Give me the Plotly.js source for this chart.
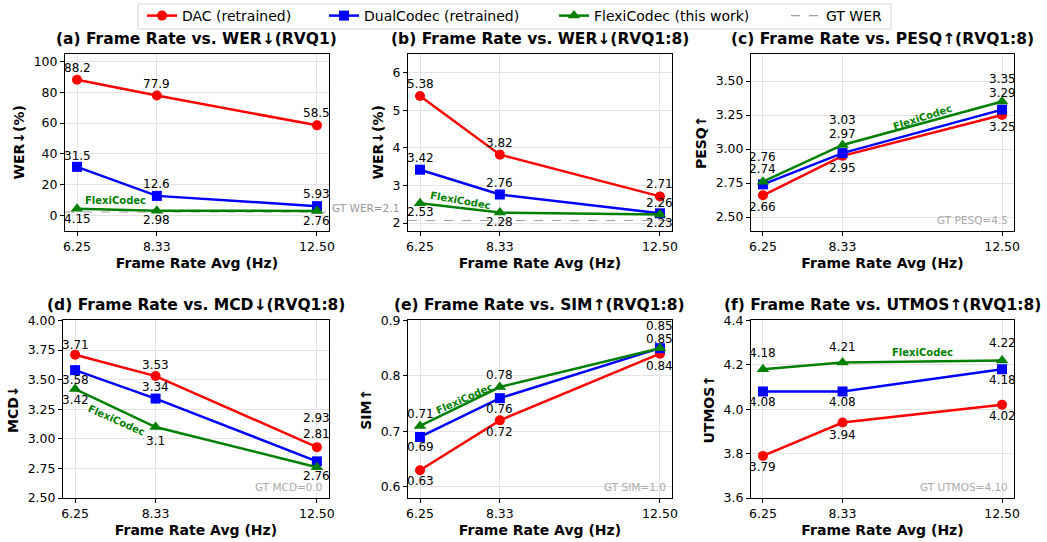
<!DOCTYPE html>
<html><head><meta charset="utf-8">
<script src="https://cdn.plot.ly/plotly-3.0.1.min.js"></script>
<style>html,body{margin:0;padding:0;background:#fff}#chart{width:1047px;height:542px}</style>
</head><body><div id="chart"></div>
<script>
// ---------- data ----------
const frameRates = [6.25, 8.33, 12.5];
const frameRateLabels = ['6.25', '8.33', '12.50'];
const seriesNames = ['DAC (retrained)', 'DualCodec (retrained)', 'FlexiCodec (this work)'];
const panelTitles = [
  '(a) Frame Rate vs. WER↓(RVQ1)',
  '(b) Frame Rate vs. WER↓(RVQ1:8)',
  '(c) Frame Rate vs. PESQ↑(RVQ1:8)',
  '(d) Frame Rate vs. MCD↓(RVQ1:8)',
  '(e) Frame Rate vs. SIM↑(RVQ1:8)',
  '(f) Frame Rate vs. UTMOS↑(RVQ1:8)'
];
const yTitles = ['WER↓(%)', 'WER↓(%)', 'PESQ↑', 'MCD↓', 'SIM↑', 'UTMOS↑'];
const xTitle = 'Frame Rate Avg (Hz)';
// per panel: a, b, c, d, e, f
const dacValues   = [[88.2, 77.9, 58.5], [5.38, 3.82, 2.71], [2.66, 2.95, 3.25], [3.71, 3.53, 2.93], [0.63, 0.72, 0.84], [3.79, 3.94, 4.02]];
const dualValues  = [[31.5, 12.6, 5.93], [3.42, 2.76, 2.26], [2.74, 2.97, 3.29], [3.58, 3.34, 2.81], [0.69, 0.76, 0.85], [4.08, 4.08, 4.18]];
const flexiValues = [[4.15, 2.98, 2.76], [2.53, 2.28, 2.23], [2.76, 3.03, 3.35], [3.42, 3.1, 2.76], [0.71, 0.78, 0.85], [4.18, 4.21, 4.22]];
const gtWer = 2.07;
const gtWerLabel = 'GT WER=2.1';
const gtLegendName = 'GT WER';
const gtCornerLabels = [null, null, 'GT PESQ=4.5', 'GT MCD=0.0', 'GT SIM=1.0', 'GT UTMOS=4.10'];
const flexiTag = 'FlexiCodec';

// ---------- styling / placement ----------
const FONT = 'DejaVu Sans, Verdana, sans-serif';
const colors = ['#ff0000', '#0000ff', '#008000'];
const symbols = ['circle', 'square', 'triangle-up'];
const markerSizes = [10, 10, 11];
const xDomains = [[0.0621, 0.3142], [0.3897, 0.6418], [0.7173, 0.9685], [0.0602, 0.3142], [0.3897, 0.6418], [0.7173, 0.9685]];
const yDomains = [[0.5756, 0.9022], [0.5756, 0.9022], [0.5756, 0.9022], [0.0812, 0.4096], [0.0812, 0.4096], [0.0812, 0.4096]];
const yAxisCfg = [
  {range: [-10, 105], tick0: 0, dtick: 20, tickformat: 'd'},
  {range: [1.8, 6.5], tick0: 0, dtick: 1, tickformat: 'd'},
  {range: [2.4, 3.7], tick0: 0, dtick: 0.25, tickformat: '.2f'},
  {range: [2.5, 4.0], tick0: 0, dtick: 0.25, tickformat: '.2f'},
  {range: [0.58, 0.9], tick0: 0, dtick: 0.1, tickformat: '.1f'},
  {range: [3.6, 4.4], tick0: 0, dtick: 0.2, tickformat: '.1f'}
];
// value-label vertical offsets (px, + = up) per panel, per series, per point
const labelShift = [
  [[12, 12, 12], [11, 12, 12], [-10, -9, -10]],
  [[12, 12, 12], [12, 12, 10], [-9, -9, -9]],
  [[-12, -12, -12], [15, 19, 17], [25, 25, 22]],
  [[10, 11, 29], [-10, 12, 27], [-11, -14, -9]],
  [[-11, -12, -12], [-10, -11, 9], [12, 12, 22]],
  [[-11, -12, -11], [-11, -11, -11], [16, 16, 17]]
];
// series-name tag placement (data coords) and rotation per panel
const flexiTagPos = [
  {x: 7.26, y: 9.7, a: 0}, {x: 7.31, y: 2.60, a: 10}, {x: 10.41, y: 3.233, a: -18},
  {x: 7.33, y: 3.156, a: 24}, {x: 7.41, y: 0.759, a: -24}, {x: 10.41, y: 4.257, a: 0}
];

const allSeries = [dacValues, dualValues, flexiValues];
const xMin = Math.min(...frameRates), xMax = Math.max(...frameRates);
const xPad = 0.05 * (xMax - xMin);
const xRange = [xMin - xPad, xMax + xPad];

const legendIds = ['legend', 'legend2', 'legend3', 'legend4'];
const legendX = [142, 324, 554, 786];

const data = [];
const layout = {
  width: 1047, height: 542,
  margin: {l: 0, r: 0, t: 0, b: 0},
  paper_bgcolor: '#fff', plot_bgcolor: '#fff',
  font: {family: FONT, size: 12, color: '#000'},
  annotations: [], shapes: [], hovermode: false
};

for (let p = 0; p < 6; p++) {
  const sfx = p === 0 ? '' : String(p + 1);
  const xa = 'x' + sfx, ya = 'y' + sfx;
  for (let s = 0; s < 3; s++) {
    data.push({
      x: frameRates, y: allSeries[s][p], xaxis: xa, yaxis: ya,
      type: 'scatter', mode: 'lines+markers', name: seriesNames[s],
      line: {color: colors[s], width: 2.5},
      marker: {color: colors[s], symbol: symbols[s], size: markerSizes[s]},
      showlegend: p === 0, legend: legendIds[s], cliponaxis: false
    });
    allSeries[s][p].forEach((v, i) => {
      layout.annotations.push({
        xref: xa, yref: ya, x: frameRates[i], y: v, text: String(v),
        showarrow: false, yshift: labelShift[p][s][i], yanchor: 'middle',
        font: {family: FONT, size: 12, color: '#000'}
      });
    });
  }
  layout['xaxis' + sfx] = {
    domain: xDomains[p], anchor: ya, range: xRange,
    tickmode: 'array', tickvals: frameRates, ticktext: frameRateLabels,
    showline: true, mirror: true, linecolor: '#000', linewidth: 1,
    ticks: 'outside', ticklen: 4, tickcolor: '#000', tickwidth: 1,
    showgrid: true, gridcolor: '#e3e3e3', gridwidth: 1, zeroline: false,
    tickfont: {family: FONT, size: 12.5, color: '#000'},
    title: {text: xTitle, standoff: 5, font: {family: FONT, size: 14, weight: 'bold', color: '#000'}}
  };
  layout['yaxis' + sfx] = Object.assign({
    domain: yDomains[p], anchor: xa,
    showline: true, mirror: true, linecolor: '#000', linewidth: 1,
    ticks: 'outside', ticklen: 4, tickcolor: '#000', tickwidth: 1,
    showgrid: true, gridcolor: '#e3e3e3', gridwidth: 1, zeroline: false,
    tickfont: {family: FONT, size: 12.5, color: '#000'},
    title: {text: yTitles[p], standoff: 5, font: {family: FONT, size: 14, weight: 'bold', color: '#000'}}
  }, yAxisCfg[p]);
  // panel title
  layout.annotations.push({
    xref: xa + ' domain', yref: ya + ' domain', x: 0.5, y: 1, yanchor: 'bottom',
    yshift: 4, showarrow: false, text: panelTitles[p],
    font: {family: FONT, size: 15.5, weight: 'bold', color: '#000'}
  });
  // FlexiCodec tag
  layout.annotations.push({
    xref: xa, yref: ya, x: flexiTagPos[p].x, y: flexiTagPos[p].y, textangle: flexiTagPos[p].a,
    showarrow: false, text: flexiTag,
    font: {family: FONT, size: 10, weight: 'bold', color: colors[2]}
  });
  // GT corner labels
  if (gtCornerLabels[p]) {
    layout.annotations.push({
      xref: xa + ' domain', yref: ya + ' domain', x: 0.985, y: 0.015,
      xanchor: 'right', yanchor: 'bottom', showarrow: false, text: gtCornerLabels[p],
      font: {family: FONT, size: 10.5, color: '#aaaaaa'}
    });
  }
  // GT WER reference line (panels a, b)
  if (p < 2) {
    layout.shapes.push({
      type: 'line', xref: xa + ' domain', yref: ya, x0: 0, x1: 1, y0: gtWer, y1: gtWer,
      line: {color: '#a0a0a0', width: 1.1, dash: 'dash'}, layer: 'below'
    });
  }
}
// GT WER text, right of panel (a)
layout.annotations.push({
  xref: 'paper', yref: 'paper', x: 330 / 1047, y: 1 - 207 / 542, xanchor: 'left', yanchor: 'middle',
  showarrow: false, text: gtWerLabel, font: {family: FONT, size: 10.5, color: '#999999'}
});
// legend-only GT trace
data.push({
  x: [null], y: [null], xaxis: 'x', yaxis: 'y', type: 'scatter', mode: 'lines', name: gtLegendName,
  line: {color: '#a0a0a0', width: 1.1, dash: 'dash'}, showlegend: true, legend: 'legend4'
});
// legend frame
layout.shapes.push({
  type: 'rect', xref: 'paper', yref: 'paper', x0: 138 / 1047, x1: 891 / 1047,
  y0: 1 - 28 / 542, y1: 1 - 3 / 542, line: {color: '#d3d3d3', width: 1}, fillcolor: '#ffffff', layer: 'above'
});
legendIds.forEach((id, k) => {
  layout[id] = {
    x: legendX[k] / 1047, y: 1 - 15.5 / 542, xanchor: 'left', yanchor: 'middle',
    orientation: 'h', bgcolor: 'rgba(0,0,0,0)', borderwidth: 0,
    font: {family: FONT, size: 14, color: '#000'}
  };
});

Plotly.newPlot('chart', data, layout, {displayModeBar: false, staticPlot: true});
</script>
</body></html>
